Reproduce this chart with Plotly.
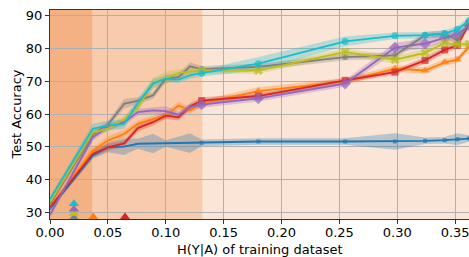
import plotly.graph_objects as go

# ---------------- data ----------------
x_vals = [0.0, 0.037, 0.050, 0.064, 0.076, 0.089, 0.100, 0.111, 0.121, 0.131,
          0.180, 0.255, 0.298, 0.324, 0.341, 0.352, 0.362]

blue   = [31.0, 47.3, 49.8, 50.0, 50.9, 51.0, 51.0, 51.0, 51.1, 51.2, 51.6, 51.6, 51.6, 51.8, 52.0, 52.3, 52.5]
orange = [31.4, 48.8, 51.9, 53.9, 57.0, 58.5, 59.5, 62.6, 61.1, 63.3, 67.0, 70.0, 73.9, 73.3, 75.8, 76.6, 80.5]
red    = [31.4, 47.8, 49.8, 51.0, 55.7, 57.5, 59.5, 59.0, 62.3, 64.1, 65.5, 70.3, 72.8, 76.4, 79.6, 81.0, 87.5]
purple = [29.2, 52.9, 56.0, 57.5, 60.6, 61.1, 60.9, 59.8, 62.1, 62.9, 64.8, 69.3, 80.3, 81.5, 83.3, 84.3, 87.1]
gray   = [32.5, 53.8, 56.8, 63.1, 64.1, 65.7, 70.8, 71.3, 74.6, 73.7, 74.4, 77.4, 77.9, 84.1, 84.6, 82.5, 87.7]
olive  = [33.0, 54.3, 55.5, 58.5, 62.0, 69.5, 71.0, 72.5, 73.0, 73.3, 73.3, 79.0, 76.6, 78.7, 81.7, 81.3, 81.4]
cyan   = [34.0, 55.5, 56.5, 57.0, 63.4, 69.3, 70.8, 70.5, 71.8, 72.5, 75.4, 82.2, 83.9, 84.1, 84.6, 85.9, 88.5]

blue_sd   = [0.5, 1.0, 1.5, 2.5, 1.5, 3.0, 1.0, 2.0, 3.0, 1.0, 1.0, 1.0, 2.5, 1.0, 1.0, 1.8, 1.0]
orange_sd = [0.8, 1.0, 1.2, 1.2, 1.0, 1.0, 1.0, 1.2, 1.0, 1.0, 1.2, 1.0, 1.0, 1.0, 1.0, 1.0, 1.0]
red_sd    = [0.8, 1.0, 1.0, 1.0, 1.0, 1.0, 1.0, 1.0, 1.0, 1.0, 0.8, 0.8, 0.8, 1.0, 1.0, 1.0, 1.0]
purple_sd = [0.8, 1.0, 1.0, 1.0, 1.0, 1.0, 1.5, 1.0, 1.0, 1.0, 1.0, 1.0, 1.5, 1.5, 1.5, 1.5, 1.0]
gray_sd   = [0.8, 1.0, 1.0, 1.5, 1.0, 1.0, 1.2, 1.2, 1.2, 1.0, 1.0, 1.0, 1.0, 1.0, 1.0, 1.5, 1.0]
olive_sd  = [0.8, 1.0, 1.0, 1.0, 1.5, 1.5, 2.0, 1.2, 1.0, 1.0, 1.0, 1.0, 1.2, 1.2, 1.0, 1.0, 1.0]
cyan_sd   = [0.8, 1.5, 1.5, 1.5, 1.5, 1.5, 1.0, 1.0, 1.0, 1.0, 2.0, 1.5, 1.0, 1.0, 1.0, 1.0, 1.0]

# threshold markers at the bottom (x, y) per series
thr_names = ["cyan", "purple", "olive", "gray", "orange", "red"]
thr_x = [0.0207, 0.0207, 0.0207, 0.0207, 0.0374, 0.0648]
thr_y = [32.6, 30.9, 29.6, 28.3, 28.5, 28.5]

# background regions (x ranges)
regions = [(0.0, 0.0369), (0.0369, 0.1319), (0.1319, 0.40)]
region_colors = ["#f4b183", "#f8cbad", "#fbe5d6"]

x_ticks = [0.00, 0.05, 0.10, 0.15, 0.20, 0.25, 0.30, 0.35]
y_ticks = [30, 40, 50, 60, 70, 80, 90]

# ---------------- figure ----------------
series = [
    ("blue",   blue,   blue_sd,   "#1f77b4", "square",       4),
    ("orange", orange, orange_sd, "#ff7f0e", "triangle-up",  8),
    ("red",    red,    red_sd,    "#d62728", "square",       7),
    ("purple", purple, purple_sd, "#9467bd", "diamond",      9),
    ("gray",   gray,   gray_sd,   "#7f7f7f", "pentagon",     7),
    ("olive",  olive,  olive_sd,  "#bcbd22", "x",            8),
    ("cyan",   cyan,   cyan_sd,   "#17becf", "circle",       7),
]
color_of = {s[0]: s[3] for s in series}


def rgba(hexc, a):
    h = hexc.lstrip("#")
    r, g, b = int(h[0:2], 16), int(h[2:4], 16), int(h[4:6], 16)
    return f"rgba({r},{g},{b},{a})"


fig = go.Figure()

for name, ys, sd, col, sym, msz in series:
    up = [y + s for y, s in zip(ys, sd)]
    lo = [y - s for y, s in zip(ys, sd)]
    fig.add_trace(go.Scatter(x=x_vals + x_vals[::-1], y=up + lo[::-1], fill="toself",
                             fillcolor=rgba(col, 0.3), line=dict(width=0),
                             hoverinfo="skip", showlegend=False))

for name, ys, sd, col, sym, msz in series:
    sizes = [0 if xv < 0.13 else msz for xv in x_vals]
    fig.add_trace(go.Scatter(x=x_vals, y=ys, mode="lines+markers",
                             line=dict(color=col, width=1.8),
                             marker=dict(symbol=sym, size=sizes, color=col, line=dict(width=0)),
                             showlegend=False))

for n, tx, ty in zip(thr_names[::-1], thr_x[::-1], thr_y[::-1]):
    fig.add_trace(go.Scatter(x=[tx], y=[ty], mode="markers",
                             marker=dict(symbol="triangle-up", size=9, color=color_of[n]),
                             cliponaxis=False, showlegend=False))

for (x0, x1), c in zip(regions, region_colors):
    fig.add_shape(type="rect", xref="x", yref="paper", x0=x0, x1=x1, y0=0, y1=1,
                  fillcolor=c, line=dict(width=0), layer="below")

font = dict(family="DejaVu Sans", size=13, color="black")
fig.update_layout(
    width=469, height=257,
    margin=dict(l=50, r=0, t=10, b=38, autoexpand=False),
    paper_bgcolor="white", plot_bgcolor="white",
    font=font, showlegend=False,
)
fig.add_annotation(text="H(Y|A) of training dataset", xref="paper", yref="paper",
                   x=0.50, y=-0.148, xanchor="center", yanchor="middle", showarrow=False, font=font)
fig.add_annotation(text="Test Accuracy", xref="paper", yref="paper", textangle=-90,
                   x=-0.081, y=0.5, xanchor="center", yanchor="middle", showarrow=False, font=font)
fig.update_xaxes(range=[0, 0.362], tickvals=x_ticks, ticktext=[f"{v:.2f}" for v in x_ticks],
                 showgrid=True, gridcolor="#b0b0b0", gridwidth=1, automargin=False,
                 showline=True, linecolor="#333333", linewidth=1.2, mirror=True,
                 ticks="outside", ticklen=4, tickcolor="#333333", zeroline=False,
                 ticklabelstandoff=-3, ticklabeloverflow="allow")
fig.update_yaxes(range=[27.9, 91.8], tickvals=y_ticks, automargin=False,
                 showgrid=True, gridcolor="#b0b0b0", gridwidth=1,
                 showline=True, linecolor="#333333", linewidth=1.2, mirror=True,
                 ticks="outside", ticklen=4, tickcolor="#333333", zeroline=False)

fig.write_html("out.html", config={"displayModeBar": False},
               post_script="document.body.style.margin='0';document.body.style.overflow='hidden';")
